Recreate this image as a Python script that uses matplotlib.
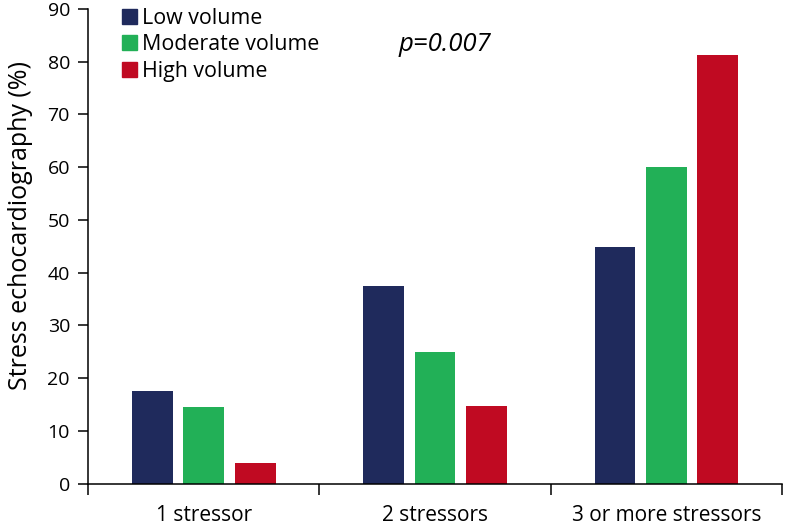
import numpy as np
import matplotlib.pyplot as plt
from matplotlib.patches import Patch

# Data
groups = ['1 stressor', '2 stressors', '3 or more stressors']
series = ['Low volume', 'Moderate volume', 'High volume']
low_volume = [17.5, 37.4, 44.8]
moderate_volume = [14.6, 24.9, 60.0]
high_volume = [3.9, 14.8, 81.3]
colors = ['#1f2a5c', '#22b057', '#c00a22']
p_text = 'p=0.007'

plt.rcParams['font.family'] = ['Open Sans', 'DejaVu Sans']

fig = plt.figure(figsize=(7.88, 5.31), dpi=100)
ax = fig.add_axes([0.1117, 0.0891, 0.8807, 0.894])

x = np.arange(len(groups)) + 0.5
offset = 0.222
width = 0.177
for i, (vals, col) in enumerate(zip([low_volume, moderate_volume, high_volume], colors)):
    ax.bar(x + (i - 1) * offset, vals, width=width, color=col, label=series[i])

ax.set_xlim(0, 3)
ax.set_ylim(0, 90)
ax.set_yticks(np.arange(0, 91, 10))
ax.tick_params(axis='y', direction='out', length=7, width=1.1, labelsize=14, pad=6)

# group boundaries as major ticks, labels on minor ticks at the centers
ax.set_xticks([0, 1, 2, 3])
ax.set_xticklabels([])
ax.set_xticks(x, minor=True)
ax.set_xticklabels(groups, minor=True, fontsize=15)
ax.tick_params(axis='x', which='major', direction='out', length=8, width=1.1)
ax.tick_params(axis='x', which='minor', length=0, pad=15)

for s in ['top', 'right']:
    ax.spines[s].set_visible(False)
ax.spines['left'].set_linewidth(1.1)
ax.spines['bottom'].set_linewidth(1.1)

ax.set_ylabel('Stress echocardiography (%)', fontsize=18)
ax.yaxis.set_label_coords(-0.079, 0.543)

handles = [Patch(color=c, label=s) for c, s in zip(colors, series)]
ax.legend(handles=handles, loc='upper left', bbox_to_anchor=(0.036, 1.02), frameon=False,
          fontsize=15.4, handlelength=0.7, handleheight=0.7, handletextpad=0.25,
          labelspacing=0.25, borderaxespad=0)

ax.text(0.447, 0.925, p_text, transform=ax.transAxes, fontsize=18.5, style='italic',
        ha='left', va='center')

fig.savefig('out.png', dpi=100)
